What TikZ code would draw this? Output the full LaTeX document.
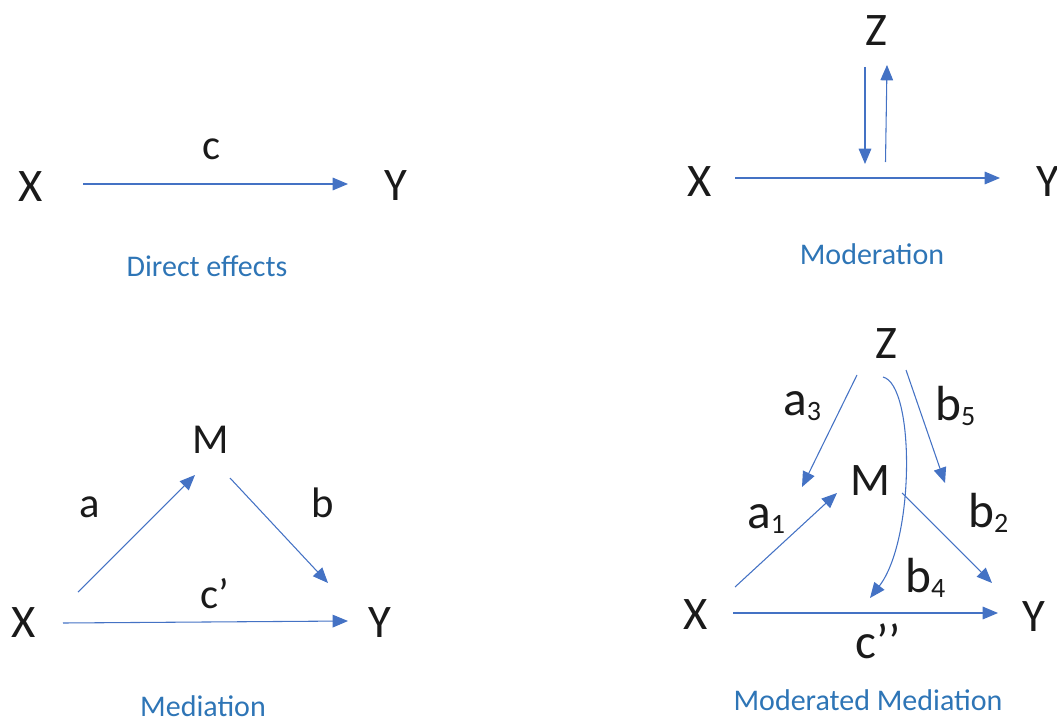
\documentclass[tikz,border=0pt]{standalone}
\usepackage{fontspec}
\setmainfont{Carlito}
\usetikzlibrary{arrows.meta}
\definecolor{arrowblue}{RGB}{68,114,196}
\definecolor{capblue}{RGB}{46,117,182}
\definecolor{ink}{RGB}{26,26,26}
\newcommand{\mysub}[1]{\raisebox{-4pt}{\fontsize{21}{21}\selectfont #1}}
\begin{document}
\begin{tikzpicture}[x=0.75pt,y=-0.75pt,
  var/.style={text=ink,font=\fontsize{35}{35}\selectfont,inner sep=0pt},
  lab/.style={text=ink,font=\fontsize{32}{32}\selectfont,inner sep=0pt},
  biglab/.style={text=ink,font=\fontsize{37}{37}\selectfont,inner sep=0pt,anchor=base west},
  capt/.style={text=capblue,font=\fontsize{22.5}{22.5}\selectfont,inner sep=0pt,anchor=base},
  arr/.style={draw=arrowblue,line width=0.8pt,-{Triangle[length=11.5pt,width=9.5pt]}}]
\useasboundingbox (0,0) rectangle (1057,717);

% ---- Direct effects
\node[var] (X1) at (31,187) {X};
\node[var] (Y1) at (396,186) {Y};
\node[lab] (c1) at (212,149) {c};
\coordinate (d1s) at (83,184);
\coordinate (d1e) at (348,184);
\draw[arr] (d1s) -- (d1e);
\node[capt] (cap1) at (207,276) {Direct effects};

% ---- Moderation
\node[var] (Z2) at (876,31) {Z};
\node[var] (X2) at (700,182) {X};
\node[var] (Y2) at (1048,182) {Y};
\coordinate (zd1) at (865,67);
\coordinate (zd2) at (865,164);
\coordinate (zu1) at (885.5,162);
\coordinate (zu2) at (887,65);
\coordinate (m2s) at (735,178);
\coordinate (m2e) at (1000,178);
\draw[arr] (zd1) -- (zd2);
\draw[arr] (zu1) -- (zu2);
\draw[arr] (m2s) -- (m2e);
\node[capt] (cap2) at (872,264) {Moderation};

% ---- Mediation
\node[var,font=\fontsize{32}{32}\selectfont] (M3) at (211,440) {M};
\node[var] (X3) at (24,623) {X};
\node[var] (Y3) at (380,623) {Y};
\node[lab] (a3) at (90,507) {a};
\node[lab] (b3) at (323,503) {b};
\node[lab] (cp3) at (215,594) {c’};
\coordinate (as) at (78,592);
\coordinate (ae) at (195,475);
\coordinate (bs) at (230,478);
\coordinate (be) at (328,583);
\coordinate (cs) at (63,623);
\coordinate (ce) at (348,621);
\draw[arr] (as) -- (ae);
\draw[arr] (bs) -- (be);
\draw[arr] (cs) -- (ce);
\node[capt] (cap3) at (203,716) {Mediation};

% ---- Moderated mediation
\node[var] (Z4) at (886,344) {Z};
\node[var] (M4) at (870,481) {M};
\node[var] (X4) at (696,615) {X};
\node[var] (Y4) at (1034,617) {Y};
\node[biglab] (la3) at (783,415) {a\mysub{3}};
\node[biglab] (la1) at (747,528) {a\mysub{1}};
\node[biglab] (lb5) at (935,420) {b\mysub{5}};
\node[biglab] (lb2) at (968,527) {b\mysub{2}};
\node[biglab] (lb4) at (905,592) {b\mysub{4}};
\node[biglab] (lc4) at (855,658) {c’’};
\coordinate (a3s) at (857,375);
\coordinate (a3e) at (802,487);
\coordinate (a1s) at (735,587);
\coordinate (a1e) at (837,493);
\coordinate (b5s) at (906,370);
\coordinate (b5e) at (945,483);
\coordinate (b2s) at (902,493);
\coordinate (b2e) at (992,583);
\coordinate (b4s) at (883,377);
\coordinate (b4e) at (870,598);
\coordinate (c4s) at (733,613);
\coordinate (c4e) at (998,613);
\draw[arr] (a3s) -- (a3e);
\draw[arr] (a1s) -- (a1e);
\draw[arr] (b5s) -- (b5e);
\draw[arr] (b2s) -- (b2e);
\draw[arr] (b4s) .. controls (915,385) and (915,540) .. (b4e);
\draw[arr] (c4s) -- (c4e);
\node[capt] (cap4) at (868,710) {Moderated Mediation};
\end{tikzpicture}
\end{document}
